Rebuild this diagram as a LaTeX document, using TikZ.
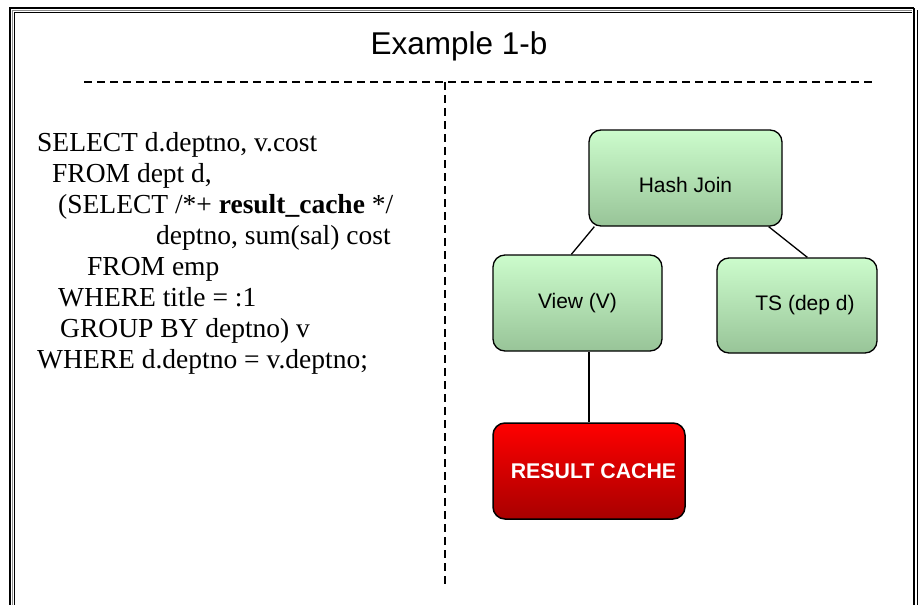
\documentclass[tikz,border=0pt]{standalone}
\usepackage{fontspec}
\setmainfont{Liberation Serif}
\newfontfamily\boxfont{Liberation Sans}
\usetikzlibrary{calc}
\definecolor{gtop}{RGB}{204,252,204}
\definecolor{gbot}{RGB}{152,196,152}
\definecolor{rtop}{RGB}{255,0,0}
\definecolor{rbot}{RGB}{168,0,0}
\definecolor{framegray}{RGB}{140,140,140}
\begin{document}
\begin{tikzpicture}[x=1pt,y=-1pt,
  greenbox/.style={draw=black,line width=1.3pt,rounded corners=12pt,top color=gtop,bottom color=gbot,
    font=\boxfont\fontsize{21}{24}\selectfont,inner sep=0pt},
  redbox/.style={draw=black,line width=1.5pt,rounded corners=12pt,top color=rtop,bottom color=rbot,
    text=white,font=\boxfont\bfseries\fontsize{21.3}{24}\selectfont,inner sep=0pt},
  sqlline/.style={anchor=base west,inner sep=0pt,font=\fontsize{27.5}{31}\selectfont},
  link/.style={line width=1.3pt,black},
  divider/.style={line width=1.8pt,dash pattern=on 8pt off 5pt}]
\useasboundingbox (0,0) rectangle (919,605);
\fill[white] (0,0) rectangle (919,605);
% frame
\draw[line width=2pt,black] (10,625) -- (10,8) -- (914,8);
\draw[line width=1.5pt,framegray] (12.5,625) -- (12.5,10.5) -- (912,10.5);
\draw[line width=1pt,black] (14.5,625) -- (14.5,12.5) -- (912,12.5);
\draw[line width=2pt,black] (914,8) -- (914,625);
\draw[line width=1.5pt,black] (917.5,10) -- (917.5,625);
% title
\node[anchor=base,inner sep=0pt,font=\boxfont\fontsize{31.5}{36}\selectfont] (title) at (459,54) {Example 1-b};
% dividers
\coordinate (hl) at (84,82);
\coordinate (hr) at (873,82);
\coordinate (vt) at (445,82);
\coordinate (vb) at (445,588);
\draw[divider] (hl) -- (hr);
\draw[divider] (vt) -- (vb);
% SQL text
\node[sqlline] (s1) at (37,151) {SELECT d.deptno, v.cost};
\node[sqlline] (s2) at (52,182) {FROM dept d,};
\node[sqlline] (s3) at (58,213) {(SELECT /*+ \textbf{result\_cache} */};
\node[sqlline] (s4) at (156,244) {deptno, sum(sal) cost};
\node[sqlline] (s5) at (87,275) {FROM emp};
\node[sqlline] (s6) at (58,306) {WHERE title = :1};
\node[sqlline] (s7) at (60,337) {GROUP BY deptno) v};
\node[sqlline] (s8) at (37,368) {WHERE d.deptno = v.deptno;};
% plan tree
\node[greenbox,minimum width=193pt,minimum height=96pt,text height=29pt,text depth=0pt] (hj) at (685.5,178) {Hash Join};
\node[greenbox,minimum width=169pt,minimum height=96pt] (view) at (577.5,303) {View (V)};
\node[greenbox,minimum width=160pt,minimum height=95pt] (ts) at (797,305.5) {\hspace*{16pt}TS (dep d)};
\node[redbox,minimum width=192pt,minimum height=96pt] (rc) at (589,471) {\hspace*{9pt}RESULT CACHE};
\draw[link] ([xshift=6pt]hj.south west) -- ([xshift=79pt]view.north west);
\draw[link] ([xshift=-14pt]hj.south east) -- ([xshift=91pt]ts.north west);
\draw[link] (rc.north |- view.south) -- (rc.north);
\end{tikzpicture}
\end{document}
